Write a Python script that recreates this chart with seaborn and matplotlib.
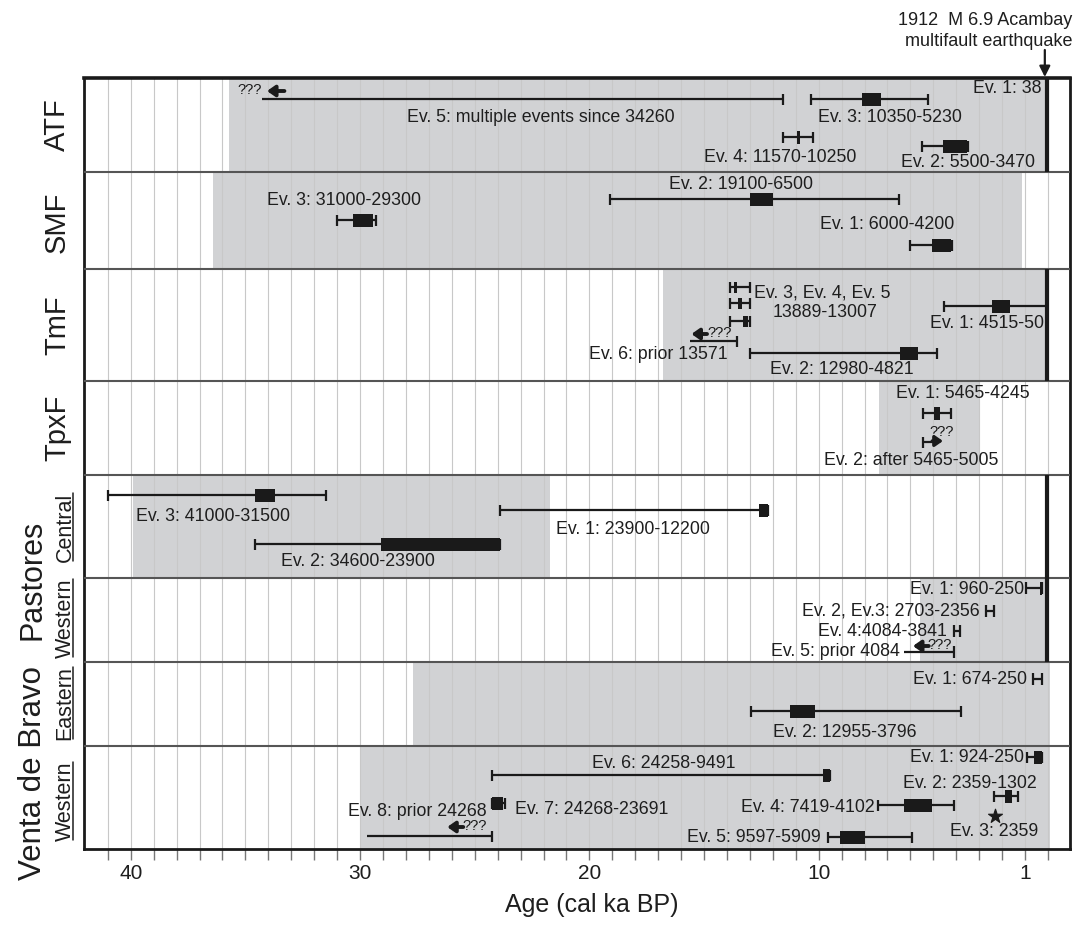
import numpy as np
import matplotlib
matplotlib.use("Agg")
import matplotlib.pyplot as plt
import seaborn as sns
import pandas as pd

sns.set_theme(style="white")
plt.rcParams['font.family'] = ['Liberation Sans', 'DejaVu Sans']

# ------------------------------------------------------------------
# DATA  (ages in ka BP)
# ------------------------------------------------------------------
panel_names = ["ATF", "SMF", "TmF", "TpxF", "Central", "Western", "Eastern", "Western"]
shade_old   = [35.7, 36.4, 16.8, 7.37, 39.9, 5.6, 27.7, 30.0]
shade_young = [0.0, 1.13, 0.0, 3.0, 21.7, 0.0, -0.1, -0.1]
quake_1912 = 0.038
quake_panels = [0, 2, 4, 5]

atf_labels = ["Ev. 5: multiple events since 34260", "Ev. 3: 10350-5230",
              "Ev. 4: 11570-10250", "Ev. 2: 5500-3470"]
atf_old = [34.26, 10.35, 11.57, 5.50]
atf_young = [11.57, 5.23, 10.25, 3.47]
atf_box_old = [np.nan, 8.1, 10.95, 4.6]
atf_box_young = [np.nan, 7.3, 10.80, 3.55]

smf_labels = ["Ev. 3: 31000-29300", "Ev. 2: 19100-6500", "Ev. 1: 6000-4200"]
smf_old = [31.0, 19.1, 6.0]
smf_young = [29.3, 6.5, 4.2]
smf_box_old = [30.3, 13.0, 5.05]
smf_box_young = [29.45, 12.0, 4.25]

tmf_labels = ["Ev. 3", "Ev. 4", "Ev. 5", "Ev. 6: prior 13571",
              "Ev. 2: 12980-4821", "Ev. 1: 4515-50"]
tmf_old = [13.889, 13.889, 13.889, 15.6, 12.98, 4.515]
tmf_young = [13.007, 13.007, 13.007, 13.571, 4.821, 0.05]
tmf_box_old = [13.69, 13.52, 13.30, np.nan, 6.45, 2.43]
tmf_box_young = [13.56, 13.34, 13.10, np.nan, 5.67, 1.64]

tpx_labels = ["Ev. 1: 5465-4245", "Ev. 2: after 5465-5005"]
tpx_old = [5.465, 5.465]
tpx_young = [4.245, 4.58]
tpx_box_old = [4.97, np.nan]
tpx_box_young = [4.71, np.nan]

pc_labels = ["Ev. 3: 41000-31500", "Ev. 1: 23900-12200", "Ev. 2: 34600-23900"]
pc_old = [41.0, 23.9, 34.6]
pc_young = [31.5, 12.2, 23.9]
pc_box_old = [34.6, 12.6, 29.1]
pc_box_young = [33.7, 12.2, 23.9]

pw_labels = ["Ev. 1: 960-250", "Ev. 2, Ev.3: 2703-2356", "Ev. 4:4084-3841", "Ev. 5: prior 4084"]
pw_old = [0.96, 2.703, 4.084, 6.3]
pw_young = [0.25, 2.356, 3.841, 4.084]
pw_box_old = [0.35, np.nan, np.nan, np.nan]
pw_box_young = [0.25, np.nan, np.nan, np.nan]

ve_labels = ["Ev. 1: 674-250", "Ev. 2: 12955-3796"]
ve_old = [0.674, 12.955]
ve_young = [0.25, 3.796]
ve_box_old = [np.nan, 11.25]
ve_box_young = [np.nan, 10.16]

vw_labels = ["Ev. 1: 924-250", "Ev. 2: 2359-1302", "Ev. 4: 7419-4102", "Ev. 5: 9597-5909",
             "Ev. 6: 24258-9491", "Ev. 7: 24268-23691", "Ev. 8: prior 24268"]
vw_old = [0.924, 2.359, 7.419, 9.597, 24.258, 24.268, 29.7]
vw_young = [0.25, 1.302, 4.102, 5.909, 9.491, 23.691, 24.268]
vw_box_old = [0.6, 1.88, 6.28, 9.07, 9.8, 24.25, np.nan]
vw_box_young = [0.27, 1.57, 5.06, 7.98, 9.491, 23.77, np.nan]
vw_star_label = "Ev. 3: 2359"
vw_star_age = [2.33]

# ------------------------------------------------------------------
# LAYOUT (vertical positions in figure pixels from the top)
# ------------------------------------------------------------------
bounds = [78, 172, 269, 381, 475, 578, 662, 746, 849]
FS = 12.8
TXT = "#1e1e1e"

fig = plt.figure(figsize=(10.87, 9.26), dpi=100)
ax = fig.add_axes([84 / 1087, 1 - 849 / 926, (1070 - 84) / 1087, (849 - 78) / 926])
ax.set_xlim(42.04, -0.96)
ax.set_ylim(849, 78)

# shading per panel
for i in range(8):
    y0, y1 = bounds[i], bounds[i + 1]
    ax.barh((y0 + y1) / 2, shade_old[i] - shade_young[i], left=shade_young[i],
            height=y1 - y0, color="#d1d2d4", zorder=1, linewidth=0)
# grid
ax.vlines(np.arange(0, 42), 78, 849, color="#c8c8c8", lw=0.8, zorder=2)
# separators
ax.hlines(bounds[1:-1], 42.04, -0.96, color="#555555", lw=1.5, zorder=3)
# 1912 line
for p in quake_panels:
    ax.vlines(quake_1912, bounds[p], bounds[p + 1], color="k", lw=3, zorder=7)


def event(old, young, bo, by, y, cap_old=True, cap_young=True, box_h=13, cap_h=11):
    ax.hlines(y, old, young, color="k", lw=1.6, zorder=5)
    if cap_old:
        ax.vlines(old, y - cap_h / 2, y + cap_h / 2, color="k", lw=1.6, zorder=5)
    if cap_young:
        ax.vlines(young, y - cap_h / 2, y + cap_h / 2, color="k", lw=1.6, zorder=5)
    if not np.isnan(bo):
        ax.barh(y, bo - by, left=by, height=box_h, color="k", zorder=6, linewidth=0)


def label(a, y, s, ha="center", fs=FS):
    ax.text(a, y, s, ha=ha, va="center", fontsize=fs, color=TXT, zorder=8, clip_on=False)


def arrow(tail, tip, y, lw=2.8, ms=9):
    ax.annotate("", xy=(tip, y), xytext=(tail, y), zorder=8,
                arrowprops=dict(arrowstyle="-|>,head_length=0.5,head_width=0.35", color="k",
                                lw=lw, mutation_scale=ms, shrinkA=0, shrinkB=0))


def qmarks(a, y, ha="center"):
    ax.text(a, y, "???", ha=ha, va="center", fontsize=10.5, color="k", zorder=8)


# ATF
atf_y = [99, 99, 137, 146]
atf_caps = [(False, True), (True, True), (True, True), (True, True)]
atf_lab = [(22.1, 117, "center"), (6.9, 117, "center"), (11.7, 157, "center"), (3.5, 162, "center")]
for i in range(4):
    event(atf_old[i], atf_young[i], atf_box_old[i], atf_box_young[i], atf_y[i], *atf_caps[i])
    label(atf_lab[i][0], atf_lab[i][1], atf_labels[i], atf_lab[i][2])
qmarks(34.3, 90, "right")
arrow(33.3, 34.06, 91)
label(0.3, 88, "Ev. 1: 38", "right")

# SMF
smf_y = [220, 199, 245]
smf_lab = [(30.7, 200), (13.4, 184), (7.0, 224)]
for i in range(3):
    event(smf_old[i], smf_young[i], smf_box_old[i], smf_box_young[i], smf_y[i])
    label(smf_lab[i][0], smf_lab[i][1], smf_labels[i])

# TmF
tmf_y = [287, 303, 321, 341, 353, 306]
tmf_caps = [(True, True)] * 3 + [(False, True), (True, True), (True, True)]
for i in range(6):
    event(tmf_old[i], tmf_young[i], tmf_box_old[i], tmf_box_young[i], tmf_y[i],
          *tmf_caps[i], box_h=11 if i < 3 else 13)
label(12.82, 293, ", ".join(tmf_labels[:3]), "left")
label(9.73, 312, "13889-13007")
label(13.96, 354, tmf_labels[3], "right")
arrow(14.87, 15.55, 334)
qmarks(14.3, 333)
label(9.0, 369, tmf_labels[4])
label(2.66, 323, tmf_labels[5])

# TpxF
event(tpx_old[0], tpx_young[0], tpx_box_old[0], tpx_box_young[0], 413)
label(3.7, 393, tpx_labels[0])
ax.vlines(tpx_old[1], 442 - 5.5, 442 + 5.5, color="k", lw=1.6, zorder=5)
ax.hlines(442, tpx_old[1], 5.0, color="k", lw=1.6, zorder=5)
arrow(5.05, tpx_young[1], 441, lw=2.4)
qmarks(4.65, 432)
label(5.97, 460, tpx_labels[1])

# Pastores Central
pc_y = [495, 510, 544]
pc_lab = [(36.4, 516), (18.1, 529), (30.1, 561)]
for i in range(3):
    event(pc_old[i], pc_young[i], pc_box_old[i], pc_box_young[i], pc_y[i])
    label(pc_lab[i][0], pc_lab[i][1], pc_labels[i])

# Pastores Western
pw_y = [588, 611, 631, 652]
pw_lab = [(1.05, 589), (3.0, 611), (4.4, 631), (6.45, 651)]
for i in range(4):
    event(pw_old[i], pw_young[i], pw_box_old[i], pw_box_young[i], pw_y[i],
          cap_old=(i != 3), cap_h=12)
    label(pw_lab[i][0], pw_lab[i][1], pw_labels[i], "right")
arrow(5.2, 5.89, 646)
qmarks(4.72, 645)

# Venta de Bravo Eastern
event(ve_old[0], ve_young[0], ve_box_old[0], ve_box_young[0], 679, cap_h=12)
label(0.92, 679, ve_labels[0], "right")
event(ve_old[1], ve_young[1], ve_box_old[1], ve_box_young[1], 711)
label(8.85, 732, ve_labels[1])

# Venta de Bravo Western
vw_y = [757, 796, 805, 837, 775, 803, 836]
vw_lab = [(1.05, 757, "right"), (3.4, 783, "center"), (7.55, 807, "right"), (9.9, 837, "right"),
          (16.75, 763, "center"), (23.25, 809, "left"), (24.47, 811, "right")]
for i in range(7):
    event(vw_old[i], vw_young[i], vw_box_old[i], vw_box_young[i], vw_y[i], cap_old=(i != 6))
    label(vw_lab[i][0], vw_lab[i][1], vw_labels[i], vw_lab[i][2])
arrow(25.5, 26.2, 827)
qmarks(25.0, 826)
star_df = pd.DataFrame({"age": vw_star_age, "y": [816]})
sns.scatterplot(data=star_df, x="age", y="y", marker="*", s=110, color="k",
                edgecolor="k", zorder=9, ax=ax, legend=False)
label(2.35, 831, vw_star_label)

# axes styling
ax.set_xticks([40, 30, 20, 10, 1])
ax.set_xticklabels(["40", "30", "20", "10", "1"])
ax.set_xticks(np.arange(0, 42), minor=True)
ax.tick_params(axis="x", which="both", bottom=True, length=8, width=1, color="#777777",
               direction="out", labelsize=15, pad=3, labelcolor=TXT)
ax.set_yticks([])
ax.set_xlabel("")
ax.set_ylabel("")
for s in ax.spines.values():
    s.set_visible(True)
    s.set_color("k")
    s.set_linewidth(2)
ax.spines["top"].set_linewidth(2.6)

ax.text(19.9, 905, "Age (cal ka BP)", ha="center", va="center", fontsize=18, color=TXT,
        clip_on=False)

# top annotation
ax.text(-1.05, 20, "1912  M 6.9 Acambay", ha="right", va="center", fontsize=13, clip_on=False,
        color=TXT)
ax.text(-1.05, 41, "multifault earthquake", ha="right", va="center", fontsize=13, clip_on=False,
        color=TXT)
ax.annotate("", xy=(quake_1912 + 0.1, 77), xytext=(quake_1912 + 0.1, 50), annotation_clip=False,
            arrowprops=dict(arrowstyle="-|>", color="k", lw=1.6, mutation_scale=16,
                            shrinkA=0, shrinkB=0))

# panel names
main_x = (1048 - 57) / 22.93
for i, yc in zip(range(4), [125, 222, 325, 428]):
    ax.text(main_x, yc, panel_names[i], rotation=90, ha="center", va="center", fontsize=21,
            clip_on=False, color=TXT)
grp_x = (1048 - 33) / 22.93
ax.text(grp_x, 580, "Pastores", rotation=90, ha="center", va="center", fontsize=22,
        clip_on=False, color=TXT)
ax.text(grp_x, 773, "Venta de Bravo", rotation=90, ha="center", va="center", fontsize=22.5,
        clip_on=False, color=TXT)
sub_x = (1048 - 65) / 22.93
sub_texts = []
for i, yc in zip(range(4, 8), [527, 618, 703, 801]):
    t = ax.text(sub_x, yc, panel_names[i], rotation=90, ha="center", va="center", fontsize=15.5,
                clip_on=False, color=TXT)
    sub_texts.append(t)

fig.canvas.draw()
r = fig.canvas.get_renderer()
inv = ax.transData.inverted()
for t in sub_texts:
    bb = t.get_window_extent(r)
    xu = bb.x1 - 2.5
    (xa, ya0), (_, ya1) = inv.transform([(xu, bb.y0 + 1), (xu, bb.y1 - 1)])
    ax.plot([xa, xa], [ya0, ya1], color=TXT, lw=1.1, clip_on=False)

fig.savefig("out.png", dpi=100)
